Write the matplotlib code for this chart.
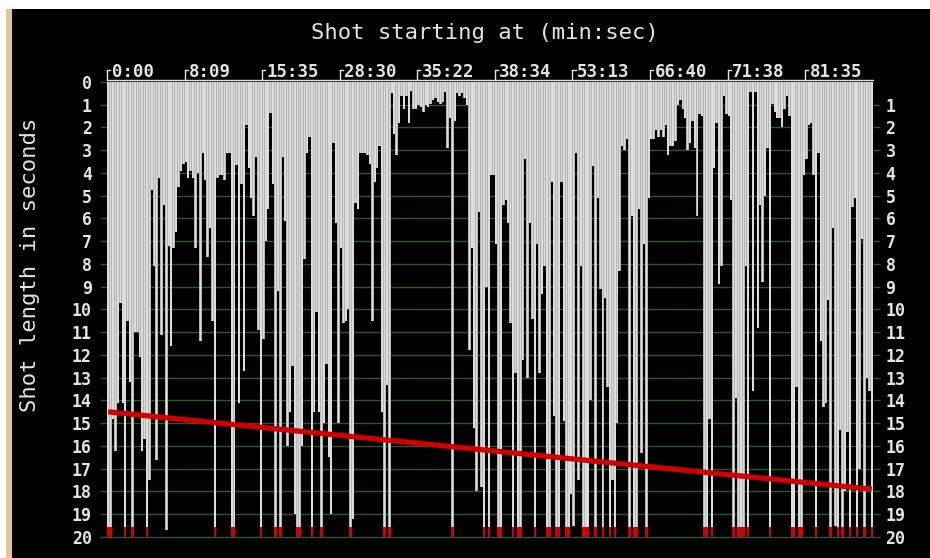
import matplotlib
import numpy as np

matplotlib.use("Agg")
import matplotlib.pyplot as plt
import matplotlib.transforms as mtransforms
from matplotlib.patches import Rectangle

# shot lengths in seconds, one per shot; 20 means "20 s or longer" (clipped, red mark)
shot_lengths = [
    20, 20, 14.8, 16.2, 14.1, 9.7, 14.1, 20, 10.5, 13.2, 20, 11.0, 11.0, 12.1, 16.2, 15.7,
    20, 17.5, 4.75, 8.1, 16.6, 4.2, 11.1, 5.4, 19.7, 7.2, 11.6, 7.3, 6.6, 4.6, 3.9, 3.6,
    3.5, 4.2, 3.9, 4.2, 7.3, 4.0, 11.4, 3.1, 4.3, 7.7, 6.4, 10.5, 20, 4.2, 4.1, 4.1,
    4.3, 3.1, 3.1, 20,
    20, 3.65, 14.1, 4.5, 12.7, 1.9, 3.8, 5.1, 5.9, 3.3, 10.9, 20, 11.3, 7.0, 5.6, 1.35,
    4.5, 20, 9.2, 20, 3.3, 6.1, 16.0, 14.5, 12.5, 19.0, 20, 20, 16.0, 7.8, 3.1, 2.4,
    20, 14.5, 10.1, 14.5, 20, 15.0, 12.4, 16.5, 19.0, 2.7, 6.2, 15.0, 7.3, 10.6, 10.5, 10.0,
    20, 19.2, 5.3, 5.6, 3.1,
    3.1, 3.1, 3.2, 3.6, 10.5, 4.4, 3.8, 2.8, 14.5, 20, 13.3, 20, 0.5, 2.3, 3.2, 1.8,
    0.6, 1.2, 0.6, 1.8, 0.4, 1.2, 1.2, 1.0, 1.1, 1.3, 1.0, 1.1, 0.95, 0.8, 0.7, 0.9,
    0.95, 0.9, 0.45, 2.9, 1.6, 20, 1.7, 0.5, 0.6, 0.5, 0.7, 1.0, 11.8, 7.3, 15.2, 18.0,
    5.7, 17.8, 20, 9.0, 20, 4.1,
    4.1, 7.1, 20, 20, 5.4, 5.2, 6.2, 10.6, 20, 12.8, 20, 20, 12.2, 3.4, 13.0, 6.2,
    10.4, 20, 7.1, 12.8, 9.3, 8.1, 20, 20, 4.4, 14.7, 20, 20, 4.4, 14.9, 20, 20,
    18.1, 19.5, 3.1, 17.5, 8.1, 20, 20, 20, 14.0, 3.7, 20, 5.1, 9.1, 20, 9.5, 13.4,
    20, 17.5, 20, 15.0, 8.3,
    2.8, 3.0, 2.5, 20, 5.9, 20, 20, 5.6, 16.3, 7.1, 20, 5.1, 2.5, 2.5, 2.1, 2.4,
    2.1, 2.4, 1.9, 3.2, 2.8, 2.8, 2.6, 1.0, 0.8, 1.2, 1.6, 3.0, 2.7, 1.7, 2.9, 5.9,
    1.4, 1.5, 20, 20, 14.8, 20, 3.8, 1.8, 8.9, 8.1, 0.6, 1.4, 1.5, 5.2, 20, 13.9,
    20, 20, 20, 8.1, 20,
    0.45, 13.6, 0.45, 10.8, 5.4, 8.8, 5.0, 2.9, 20, 0.95, 1.3, 1.6, 1.6, 2.0, 1.2, 0.6,
    1.5, 20, 20, 13.4, 20, 20, 4.1, 3.4, 1.9, 1.8, 4.1, 20, 3.1, 11.4, 14.3, 14.1,
    9.6, 20, 6.4, 19.5, 20, 15.3, 20, 18.0, 15.4, 20, 5.5, 5.1, 20, 17.0, 6.9, 20,
    13.0, 13.6, 20,
]
tick_every = 32
time_labels = ["0:00", "8:09", "15:35", "28:30", "35:22", "38:34", "53:13", "66:40", "71:38", "81:35"]
trend_start = 14.5
trend_end = 17.9
max_seconds = 20

TEXT = "#e4e4e4"
BAR_LIGHT = "#dcdcdc"
BAR_DARK = "#b4b4b4"
GRID = "#2c582c"
RED = "#d00000"
FONT = "DejaVu Sans Mono"

W, H = 930, 558
fig = plt.figure(figsize=(W / 100, H / 100), dpi=100)
fig.patch.set_facecolor("white")
fig.patches.append(Rectangle((12 / W, 0), 1, 1 - 9 / H, transform=fig.transFigure,
                             facecolor="black", linewidth=0, zorder=-2))
fig.patches.append(Rectangle((6 / W, 0), 6 / W, 1 - 9 / H, transform=fig.transFigure,
                             facecolor="#e6c595", linewidth=0, zorder=-2))

top_px, bottom_px = 79.7, 540.4
ax = fig.add_axes([107 / W, 1 - bottom_px / H, 766 / W, (bottom_px - top_px) / H])
ax.set_facecolor("black")

values = np.array(shot_lengths, dtype=float)
n = len(values)
x = np.arange(n)
shown = np.minimum(values, max_seconds)

ax.bar(x, shown, width=1.0, color=BAR_DARK, linewidth=0, zorder=2)
ax.bar(x, shown, width=0.62, color=BAR_LIGHT, linewidth=0, zorder=3)
long_shots = values >= max_seconds
ax.bar(x[long_shots], 0.45, bottom=max_seconds - 0.45, width=1.0, color=RED, linewidth=0, zorder=4)
ax.plot([0, n - 1], [trend_start, trend_end], color=RED, linewidth=3.8,
        solid_capstyle="butt", zorder=5)

ax.set_xlim(-0.5, n - 0.5)
ax.set_ylim(max_seconds + 0.15, -0.1)

# y axis: grid + labels on both sides
ax.set_yticks(range(0, max_seconds + 1))
ax.set_yticklabels([str(v) for v in range(0, max_seconds + 1)])
ax.set_axisbelow(True)
ax.yaxis.grid(True, color=GRID, linewidth=1.0)
ax.tick_params(axis="y", direction="out", length=5, width=1, color=GRID,
               labelcolor=TEXT, pad=6)
right = ax.secondary_yaxis("right")
right.set_yticks(range(1, max_seconds + 1))
right.tick_params(axis="y", direction="out", length=5, width=1, color=GRID,
                  labelcolor=TEXT, pad=4)
for axis in (ax, right):
    for label in axis.get_yticklabels():
        label.set_fontfamily(FONT)
        label.set_fontweight("bold")
        label.set_fontsize(12)
for side in ("left", "right", "bottom"):
    ax.spines[side].set_visible(False)
for side in right.spines:
    right.spines[side].set_visible(False)
ax.spines["top"].set_color(TEXT)
ax.spines["top"].set_linewidth(1.0)

# top time axis
tick_pos = np.arange(0, n, tick_every) - 0.5
ax.set_xticks(tick_pos)
ax.tick_params(axis="x", bottom=False, labelbottom=False, top=True, labeltop=False,
               direction="out", length=7, width=1, color=TEXT)
blend = mtransforms.blended_transform_factory(ax.transData, ax.transAxes)
hook = blend + mtransforms.ScaledTranslation(0, 7 / 72, fig.dpi_scale_trans)
label_tr = blend + mtransforms.ScaledTranslation(0.045, 0.03, fig.dpi_scale_trans)
for pos, text in zip(tick_pos, time_labels):
    ax.plot([pos, pos + 1.3], [1, 1], color=TEXT, linewidth=1, transform=hook, clip_on=False)
    ax.text(pos, 1, text, transform=label_tr, ha="left", va="baseline", color=TEXT,
            fontfamily=FONT, fontweight="bold", fontsize=12.5)

fig.text(485 / W, 1 - 33 / H, "Shot starting at (min:sec)", ha="center", va="center",
         color=TEXT, fontfamily=FONT, fontsize=16)
fig.text(30 / W, 1 - 265 / H, "Shot length in seconds", rotation=90, ha="center", va="center",
         color=TEXT, fontfamily=FONT, fontsize=16)

fig.savefig("out.png", dpi=100, facecolor=fig.get_facecolor())
